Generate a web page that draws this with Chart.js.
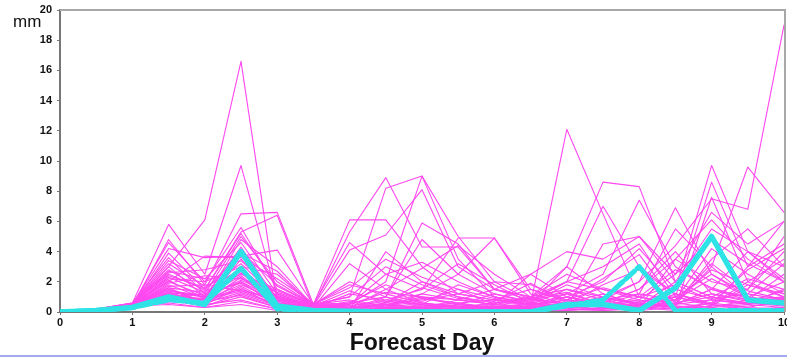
<!DOCTYPE html>
<html>
<head>
<meta charset="utf-8">
<script src="https://cdn.jsdelivr.net/npm/chart.js@4"></script>
<style>
  html, body { margin: 0; padding: 0; background: #fff; }
  #wrap { width: 787px; height: 358px; position: relative; }
</style>
</head>
<body>
<div id="wrap"><canvas id="qpf" width="787" height="358"></canvas></div>
<script>
// forecast steps every 12h, 0..10 days
const forecastDays = [0, 0.5, 1, 1.5, 2, 2.5, 3, 3.5, 4, 4.5, 5, 5.5, 6, 6.5, 7, 7.5, 8, 8.5, 9, 9.5, 10];

// thick cyan runs (solid + dashed)
const controlRun = [0, 0.1, 0.3, 1.0, 0.5, 4.0, 0.4, 0.1, 0.05, 0, 0, 0, 0, 0, 0.5, 0.5, 0.1, 1.6, 5.0, 0.8, 0.6];
const hiresRun   = [0, 0.1, 0.3, 0.8, 0.6, 2.9, 0.2, 0.1, 0, 0, 0, 0, 0, 0, 0.4, 0.8, 3.0, 0.1, 0.1, 0.1, 0.1];

// ensemble members, mm per 12h
const members = [
  [0,.2,.5,3.0,6.1,16.6,.6,.4,.1,.2,.3,.5,.2,.3,.6,.4,.2,.5,1.5,1.0,2.0],
  [0,.2,.6,5.8,2.5,9.7,1.0,.5,.3,.5,1.0,.8,.5,.6,1.0,2.0,4.2,1.5,9.7,4.0,3.0],
  [0,.1,.4,4.8,1.8,6.5,6.6,.5,6.1,6.1,3.0,1.2,.8,.5,.3,.2,.5,1.0,2.5,1.2,.8],
  [0,.2,.5,4.6,2.0,5.6,1.5,.4,5.3,8.9,4.3,4.3,1.5,1.0,2.0,1.5,1.0,.5,.8,.6,.5],
  [0,.2,.5,4.2,3.6,3.7,4.1,.5,1.0,8.2,9.0,5.0,2.0,.8,1.2,2.5,7.4,3.0,1.5,.8,1.0],
  [0,.1,.4,3.9,1.5,5.3,6.4,.3,.5,2.0,9.0,3.5,1.0,.5,12.1,6.5,1.0,.5,3.0,9.6,6.6],
  [0,.2,.6,3.6,1.2,5.0,2.0,.5,4.6,2.5,1.5,4.9,4.9,1.5,.8,.5,.3,1.0,8.6,3.0,4.5],
  [0,.2,.5,3.4,2.2,4.6,1.2,.4,4.1,5.1,8.1,3.0,1.5,1.0,3.0,8.6,8.3,2.0,1.0,.5,.3],
  [0,.1,.4,3.0,1.0,4.3,.8,.5,2.0,1.0,4.8,2.5,1.2,.6,.5,1.0,2.0,4.4,7.5,6.8,19.0],
  [0,.2,.5,2.8,1.4,4.0,1.8,.5,1.6,3.5,2.3,1.5,.5,2.5,4.0,3.5,5.0,2.5,6.6,4.5,6.0],
  [0,.1,.5,2.6,2.8,3.4,1.2,.4,.3,1.5,2.9,4.4,2.5,1.0,.4,.6,1.5,3.5,6.1,3.5,2.0],
  [0,.2,.4,2.4,1.6,3.2,.9,.5,1.0,3.0,1.8,1.0,.6,.8,2.0,7.0,3.0,1.2,.5,2.0,3.5],
  [0,.1,.5,2.2,2.0,3.0,2.5,.4,.2,.5,.8,1.2,2.0,1.8,.8,.5,1.2,5.5,3.0,1.0,.7],
  [0,.2,.6,2.0,1.1,2.8,1.0,.5,.5,2.5,3.3,2.0,1.0,.5,.3,4.5,5.0,2.0,1.0,.6,1.5],
  [0,.1,.4,1.8,.9,2.6,.6,.3,3.2,1.5,.6,.3,.2,.4,1.0,.6,.4,2.0,5.5,4.0,2.0],
  [0,.2,.5,1.6,1.3,2.5,1.5,.5,.8,.4,.2,.5,1.2,.7,2.0,3.0,4.5,1.0,.4,3.0,6.0],
  [0,.1,.4,1.5,.7,2.3,.5,.4,.2,1.0,5.9,4.5,1.5,.8,.6,1.2,.5,.8,4.2,2.5,1.2],
  [0,.2,.5,1.4,1.0,2.1,1.1,.3,1.2,.8,.5,.4,.3,1.0,1.5,.8,.3,3.5,2.0,1.5,4.0],
  [0,.1,.3,1.3,.6,2.0,.4,.5,.1,.3,1.2,2.5,4.9,1.2,.5,.3,1.0,1.8,.8,.5,1.0],
  [0,.2,.5,1.2,.8,1.8,.8,.4,.6,1.8,.9,.5,.3,.5,.8,2.2,3.8,.6,.3,.8,2.5],
  [0,.1,.4,1.1,.5,1.6,.3,.3,.3,.5,.3,.8,1.5,2.5,1.0,.4,.2,.5,3.5,5.5,3.0],
  [0,.2,.5,1.0,.9,1.5,.7,.5,1.8,1.2,.6,.3,.2,.3,.5,.6,1.5,4.0,1.2,.8,.4],
  [0,.1,.3,.9,.6,1.3,.5,.4,.4,.2,.5,1.8,1.0,.6,1.8,1.0,.5,.3,.6,1.5,5.0],
  [0,.2,.4,.8,.4,1.0,.3,.3,.2,.6,2.0,1.0,.4,.2,.3,.8,1.2,.8,2.8,1.8,1.0],
  [0,.1,.4,.7,.5,.8,.2,.4,.1,.2,.4,.6,.8,1.5,.7,.3,.2,1.2,.5,.3,.8],
  [0,.2,.5,2.0,3.7,3.6,2.2,.6,.4,.8,1.5,3.2,1.8,.6,.3,.2,.4,.6,1.0,2.2,1.5],
  [0,.1,.4,1.9,2.4,2.2,1.4,.5,.6,1.0,.4,.3,.6,1.0,2.5,1.5,.8,2.5,4.8,3.2,2.0],
  [0,.2,.5,1.7,1.8,1.4,.9,.4,.3,.4,.7,1.5,.9,.4,1.2,.6,.3,.2,.4,.6,.4],
  [0,.1,.3,1.0,1.2,1.9,.6,.3,.5,1.3,1.0,.5,.3,.6,.4,.2,.6,1.5,.9,1.2,3.2],
  [0,.2,.5,1.5,.6,3.5,1.0,.5,.2,.1,.3,.2,.5,.9,.5,1.8,2.8,1.2,.6,.3,.2],
  [0,.1,.4,1.2,.8,4.8,3.0,.4,.1,.3,.2,.4,.2,.3,.6,.3,.1,.3,7.6,2.0,1.0],
  [0,.2,.5,2.5,1.5,5.2,1.7,.5,.6,.2,.1,.2,.4,.2,.2,.5,.8,.4,.2,.4,.6],
  [0,.1,.4,2.1,.9,3.9,2.7,.4,1.4,.6,1.2,.8,.5,.3,.2,.1,.3,.8,2.2,1.0,.5],
  [0,.2,.5,3.2,1.7,2.7,.7,.3,.2,4.0,2.0,1.2,.8,.5,1.5,1.0,.6,.3,.2,.1,.3],
  [0,.1,.3,.8,.4,1.2,.4,.5,.3,.1,.2,.3,.1,.2,.4,.8,2.0,6.9,2.5,1.0,.5],
  [0,.2,.4,.6,.3,.7,.2,.3,.1,.2,.1,.1,.2,.4,.2,.1,.2,.5,1.5,4.0,2.2],
  [0,.1,.4,.5,.3,.5,.1,.2,.2,.1,.3,.2,.1,.1,.1,.3,.6,.3,.1,.2,.3],
  [0,.2,.5,1.3,1.0,2.4,.6,.4,.3,.5,.2,.1,.3,.5,3.0,1.2,.4,.6,1.2,.7,1.4],
  [0,.1,.3,.9,.7,1.1,.3,.3,.1,.3,.6,.4,.3,.2,.1,.2,.3,.1,.6,2.8,4.2],
  [0,.2,.5,1.6,.6,1.7,.5,.5,.4,.7,.5,.3,.6,.9,1.3,.5,.2,.7,3.2,1.4,.8],
  [0,.1,.4,2.3,1.3,2.9,.9,.4,.2,.4,.9,.6,.2,.4,.8,1.6,1.0,2.8,1.6,.9,.6],
  [0,.2,.5,1.4,1.1,2.0,.8,.3,.7,.3,.1,.2,.4,.3,.6,.9,.5,.2,.4,1.8,1.2],
  [0,.1,.4,1.1,.8,1.4,.5,.4,.1,.2,.4,.6,.3,.2,.3,.4,.7,1.0,.5,.2,.1],
  [0,.2,.5,2.7,2.2,2.2,1.3,.5,.3,.6,1.6,.9,.7,1.9,.6,.3,.5,.4,.3,.5,.9]
];

const yTicks = [0, 2, 4, 6, 8, 10, 12, 14, 16, 18, 20];

function toPoints(vals) {
    return vals.map((v, i) => ({ x: forecastDays[i], y: v }));
}

const datasets = [
    { data: toPoints(controlRun), borderColor: '#2ee3e6', borderWidth: 5.5 },
    { data: toPoints(hiresRun), borderColor: '#2ee3e6', borderWidth: 5, borderDash: [12, 4] }
];
members.forEach(vals => {
    datasets.push({ data: toPoints(vals), borderColor: '#ff48f0', borderWidth: 1.1 });
});

// box on top/right, the "mm" unit label and the strip under the chart
const framePlugin = {
    id: 'frame',
    afterDatasetsDraw(chart) {
        const { ctx, chartArea: a } = chart;
        ctx.save();
        ctx.strokeStyle = '#a8a8a8';
        ctx.lineWidth = 2;
        ctx.beginPath();
        ctx.moveTo(a.left, a.top);
        ctx.lineTo(a.right + 1, a.top);
        ctx.lineTo(a.right + 1, a.bottom);
        ctx.stroke();
        ctx.restore();
    },
    afterDraw(chart) {
        const ctx = chart.ctx;
        ctx.save();
        ctx.fillStyle = '#111';
        ctx.font = '17px "Liberation Sans", Arial, sans-serif';
        ctx.textBaseline = 'alphabetic';
        ctx.fillText('mm', 13, 27);
        ctx.fillStyle = '#a3a9ef';
        ctx.fillRect(0, 355, chart.width, 2);
        ctx.restore();
    }
};

const tickFont = { family: '"Liberation Sans", Arial, sans-serif', size: 11, weight: 'bold' };

new Chart(document.getElementById('qpf'), {
    type: 'line',
    data: { datasets },
    plugins: [framePlugin],
    options: {
        responsive: false,
        animation: false,
        events: [],
        layout: { padding: { top: 10, right: 3, left: 0, bottom: 0 } },
        elements: {
            point: { radius: 0 },
            line: { tension: 0, borderJoinStyle: 'round', borderCapStyle: 'round' }
        },
        plugins: { legend: { display: false }, tooltip: { enabled: false } },
        scales: {
            x: {
                type: 'linear',
                min: 0,
                max: 10,
                ticks: { stepSize: 1, color: '#111', font: tickFont, padding: 1, maxRotation: 0 },
                grid: { drawOnChartArea: false, tickLength: 3, color: '#777' },
                border: { color: '#777', width: 2 },
                title: {
                    display: true,
                    text: 'Forecast Day',
                    color: '#111',
                    font: { family: '"Liberation Sans", Arial, sans-serif', size: 23, weight: 'bold' },
                    padding: { top: 0, bottom: 1 }
                },
                afterFit(scale) {
                    scale.height = 46;
                    scale.paddingLeft = 0;
                    scale.paddingRight = 0;
                }
            },
            y: {
                min: 0,
                max: 20,
                afterBuildTicks(scale) {
                    scale.ticks = yTicks.map(v => ({ value: v }));
                },
                ticks: { color: '#111', font: tickFont, padding: 5 },
                grid: { drawOnChartArea: false, tickLength: 3, color: '#777' },
                border: { color: '#777', width: 2 },
                afterFit(scale) {
                    scale.width = 60;
                    scale.paddingTop = 0;
                    scale.paddingBottom = 0;
                }
            }
        }
    }
});
</script>
</body>
</html>
